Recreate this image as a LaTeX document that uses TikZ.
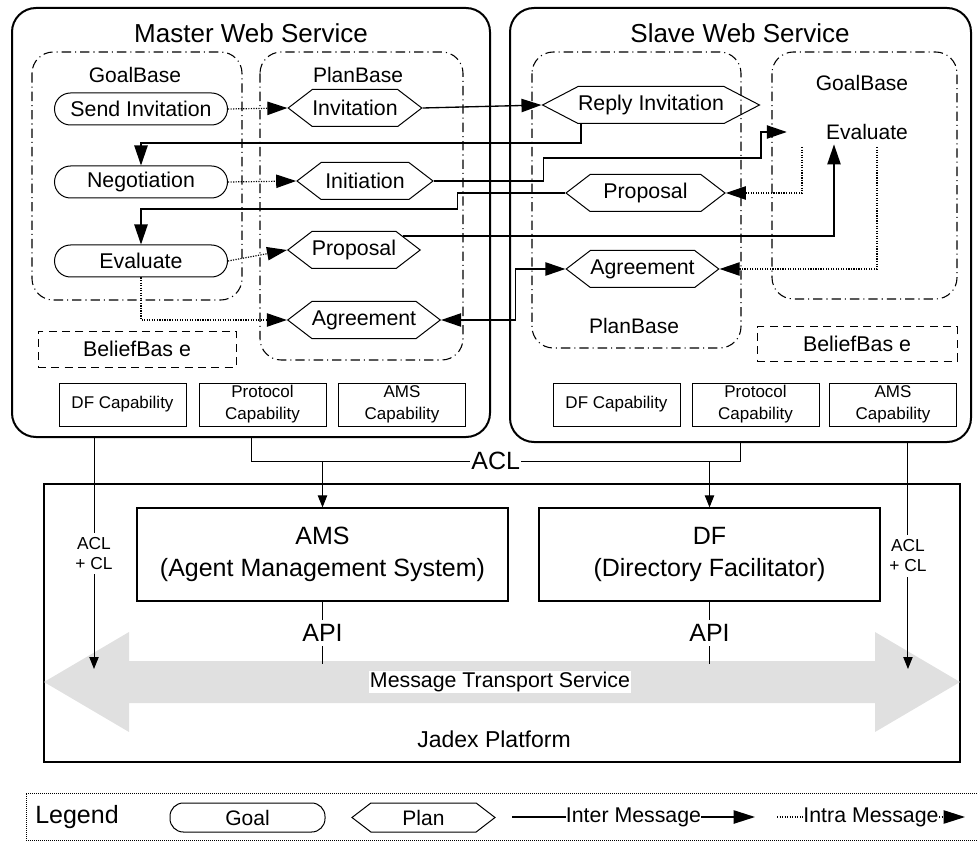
\documentclass[tikz,border=0pt]{standalone}
\usepackage{fontspec}
\setmainfont{Liberation Sans}
\usepackage{tikz}
\usetikzlibrary{arrows.meta,shapes.symbols}

\begin{document}
\begin{tikzpicture}[x=0.75pt,y=-0.75pt,
  service/.style={draw,line width=1.5pt,rounded corners=18pt,inner sep=0pt},
  base/.style={draw,line width=0.8pt,rounded corners=16pt,dash pattern=on 7pt off 3pt on 0.8pt off 3pt},
  title/.style={font=\fontsize{19.5}{23}\selectfont},
  lbl/.style={font=\fontsize{15.75}{19}\selectfont},
  goal/.style={draw,line width=0.75pt,rounded corners=12pt,minimum width=129.75pt,minimum height=24pt,inner sep=0pt,font=\fontsize{16}{19}\selectfont},
  plan/.style={draw,line width=0.75pt,signal,signal to=east and west,signal pointer angle=75,minimum height=27.75pt,inner sep=0pt,font=\fontsize{16}{19}\selectfont},
  belief/.style={draw,line width=0.75pt,dash pattern=on 6pt off 4pt,minimum height=27pt,font=\fontsize{16}{19}\selectfont},
  capab/.style={draw,line width=0.75pt,minimum width=95.25pt,minimum height=32.25pt,inner sep=0pt,align=center,font=\fontsize{12.75}{16.5}\selectfont},
  sysbox/.style={draw,line width=0.9pt,minimum width=278.25pt,minimum height=69.75pt,align=center,font=\fontsize{18.75}{24}\selectfont},
  inter/.style={line width=1pt,-{Triangle[length=15pt,width=10pt]}},
  intra/.style={line width=0.9pt,densely dotted,-{Triangle[length=15pt,width=10pt]}},
  bus/.style={line width=0.75pt,-{Triangle[length=9pt,width=7pt]}},
  big/.style={font=\fontsize{18.75}{22}\selectfont},
  small/.style={font=\fontsize{13}{15}\selectfont,align=center}]
\useasboundingbox (0,0) rectangle (977,841);
%\draw (0,0) grid (977,841);

% master web service
\node [service,minimum width=358.5pt,minimum height=321.75pt] (master) at (251,222.5) {};
\node [title] at (251,33) {Master Web Service};
\draw [base] (32,52) rectangle (242,300);
\draw [base] (260,52) rectangle (463,360);
\node [lbl] at (135,75) {GoalBase};
\node [lbl] at (358,75) {PlanBase};

\node [goal] (sendinv) at (141,109) {Send Invitation};
\node [goal] (nego) at (141,182) {Negotiation};
\node [goal] (mev) at (141,261) {Evaluate};

\node [plan,minimum width=97.5pt] (inv) at (355,108) {Invitation};
\node [plan,minimum width=102pt] (init) at (365,181) {Initiation};
\node [plan,minimum width=91.5pt] (mprop) at (354,250) {Proposal};
\node [plan,minimum width=103.5pt] (magree) at (364,320) {Agreement};

\node [belief,minimum width=148.5pt] (mbel) at (137,349) {BeliefBas e};
\node [capab] (mdf) at (122.5,404.5) {DF Capability};
\node [capab] (mproto) at (262.5,404.5) {Protocol\\Capability};
\node [capab] (mams) at (402,404.5) {AMS\\Capability};

% slave web service
\node [service,minimum width=345.75pt,minimum height=325.5pt] (slave) at (740.5,225) {};
\node [title] at (740,33) {Slave Web Service};
\draw [base] (532,52) rectangle (741,348);
\draw [base] (772,52) rectangle (957,299);
\node [lbl] at (634,326) {PlanBase};
\node [lbl] at (862,83) {GoalBase};
\node [lbl] (sev) at (867,132) {Evaluate};

\node [plan,minimum width=142.5pt,signal pointer angle=55] (rinv) at (651,105) {Reply Invitation};
\node [plan,minimum width=119.25pt] (sprop) at (645.5,193) {Proposal};
\node [plan,minimum width=101.25pt] (sagree) at (642.5,269) {Agreement};

\node [belief,minimum width=150pt,minimum height=25.5pt] (sbel) at (857,344) {BeliefBas e};
\node [capab] (sdf) at (616.5,404.5) {DF Capability};
\node [capab] (sproto) at (755.5,404.5) {Protocol\\Capability};
\node [capab] (sams) at (893,404.5) {AMS\\Capability};

% intra messages
\draw [intra] (sendinv.east) -- (inv.west);
\draw [intra] (nego.east) -- (init.west);
\draw [intra] (mev.east) -- (mprop.west);
\draw [intra] (mev.south) |- (magree.west);
\coordinate (evp) at (802,147); \coordinate (eva) at (877,147);
\draw [intra] (evp) |- (sprop.east);
\draw [intra] (eva) |- (sagree.east);

% inter messages
\draw [inter] (inv.east) -- (rinv.west);
\draw [inter] ([xshift=-52.5pt]rinv.south) -- ++(0,19) -| (nego.north);
\draw [inter] (init.east) -- ++(110,0) |- ++(217,-23) |- ([xshift=-26pt]sev.west);
\draw [inter] (sprop.west) -| ++(-108,16) -| (mev.north);
\draw [inter] (mprop.16) -| ([xshift=-24.75pt]sev.south);
\draw [inter,{Triangle[length=15pt,width=10pt]}-{Triangle[length=15pt,width=10pt]}] (sagree.west) -- ++(-50,0) |- (magree.east);

% jadex platform
\node [draw,line width=1.5pt,minimum width=687pt,minimum height=208.5pt] (jadex) at (502,623) {};
\fill [black!12] (44,682) -- (129,632) -- (129,661) -- (875,661) -- (875,632) -- (960,682) -- (875,732) -- (875,703) -- (129,703) -- (129,732) -- cycle;
\node [fill=white,inner sep=1pt,font=\fontsize{16}{19}\selectfont] (mts) at (500,682) {Message Transport Service};
\node [font=\fontsize{17.25}{20}\selectfont] at (494,739) {Jadex Platform};

\node [sysbox,fill=white] (ams) at (322.5,554.5) {AMS\\(Agent Management System)};
\node [sysbox,fill=white,minimum width=255.75pt] (df) at (709.5,554.5) {DF\\(Directory Facilitator)};

\draw [line width=0.75pt] (master.south) -- ++(0,23) -| node [pos=0.25,fill=white,big,inner sep=1pt] (acl) {ACL} (slave.south);
\draw [bus] (ams.north |- acl) -- (ams.north);
\draw [bus] (df.north |- acl) -- (df.north);
\draw [line width=0.75pt] (ams.south) -- node [fill=white,big] {API} ++(0,62);
\draw [line width=0.75pt] (df.south) -- node [fill=white,big] {API} ++(0,62);
\draw [bus] ([xshift=-117.75pt]master.south) -- node [fill=white,small] {ACL\\+ CL} ++(0,231);
\draw [bus] ([xshift=125.6pt]slave.south) -- node [fill=white,small] {ACL\\+ CL} ++(0,226);

% legend
\draw [line width=0.5pt,densely dotted] (977,793) -- (26,793) -- (26,840) -- (977,840);
\node [big] at (77,817) {Legend};
\node [goal,minimum width=116.25pt,minimum height=21.75pt,rounded corners=10pt,font=\fontsize{15.75}{18}\selectfont] (lgoal) at (247.5,817.5) {Goal};
\node [plan,minimum width=107.25pt,minimum height=21.75pt,font=\fontsize{15.75}{18}\selectfont] (lplan) at (423.5,817.5) {Plan};
\coordinate (intera) at (512,817); \coordinate (interb) at (755,817);
\coordinate (intraa) at (777,817); \coordinate (intrab) at (965,817);
\draw [inter,-{Triangle[length=16pt,width=10pt]}] (intera) -- node [fill=white,inner sep=0pt,font=\fontsize{16}{19}\selectfont] {Inter Message} (interb);
\draw [intra,-{Triangle[length=16pt,width=10pt]}] (intraa) -- node [fill=white,inner sep=0pt,font=\fontsize{16}{19}\selectfont] {Intra Message} (intrab);
\end{tikzpicture}
\end{document}
